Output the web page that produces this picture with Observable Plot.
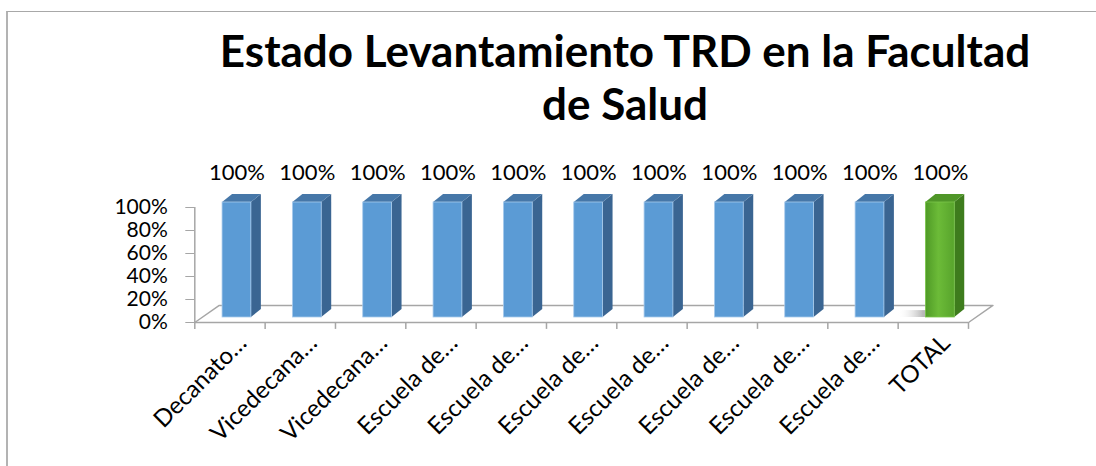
<!DOCTYPE html>
<html><head><meta charset="utf-8">
<script src="https://cdn.jsdelivr.net/npm/d3@7"></script>
<script src="https://cdn.jsdelivr.net/npm/@observablehq/plot@0.6"></script>
<style>
body{margin:0;background:#fff;overflow:hidden;width:1096px;height:466px;position:relative;font-family:Lato,sans-serif}
#frame{position:absolute;left:6px;top:11px;width:1200px;height:500px;border-left:2px solid #b3b3b3;border-top:1px solid #a8a8a8}
#title{position:absolute;left:125px;width:1000px;top:24px;text-align:center;font:bold 44px/53px Lato,sans-serif;color:#000}
#chart{position:absolute;left:0;top:150px}
</style></head><body>
<div id="frame"></div>
<div id="title">Estado Levantamiento TRD en la Facultad<br>de Salud</div>
<div id="chart"></div>
<script>
const categories = ["Decanato…","Vicedecana…","Vicedecana…","Escuela de…","Escuela de…","Escuela de…","Escuela de…","Escuela de…","Escuela de…","Escuela de…","TOTAL"];
const values = [100,100,100,100,100,100,100,100,100,100,100];
const yTicks = [0,20,40,60,80,100];

const rows = categories.map((c,i)=>({i, cat:c, v:values[i], total:c==="TOTAL"}));
const n = rows.length;

// 3D geometry (units of the scales)
const H = 0.205, DX = 0.142, DY = 7;   // half width, depth offset
const BDX = 7, BDY = -5;               // bars sit inside the floor depth (px)
const FX = 0.348, FY = 14.8;           // floor depth

const blue = {front:"#5B9BD5", side:"#3A6592", top:"#4677A8", edge:"#a9cbec"};
const green = {front:"url(#gfront)", side:"#3E7C1D", top:"#4F9628", edge:"#7cc64c"};

const sidePts = rows.flatMap(d=>[{i:d.i,total:d.total,x:d.i+H,y1:0,y2:d.v},{i:d.i,total:d.total,x:d.i+H+DX,y1:DY,y2:d.v+DY}]);
const topPts = rows.flatMap(d=>[{i:d.i,total:d.total,y:d.v,x1:d.i-H,x2:d.i+H},{i:d.i,total:d.total,y:d.v+DY,x1:d.i-H+DX,x2:d.i+H+DX}]);
const lo = -0.5, hi = n-0.5;
const floorPts = [{x:lo,y:0},{x:lo+FX,y:FY},{x:hi+FX,y:FY},{x:hi,y:0}];
const bounds = d3.range(n+1).map(k=>k-0.5);
const grid = "#a6a6a6";

const barMarks = (pal, f) => [
  Plot.areaY(sidePts.filter(f), {x:"x", y1:"y1", y2:"y2", z:"i", fill:pal.side, dx:BDX, dy:BDY}),
  Plot.areaX(topPts.filter(f), {y:"y", x1:"x1", x2:"x2", z:"i", fill:pal.top, dx:BDX, dy:BDY}),
  Plot.rect(rows.filter(f), {x1:d=>d.i-H, x2:d=>d.i+H, y1:0, y2:"v", fill:pal.front, stroke:pal.edge, strokeWidth:0.8, dx:BDX, dy:BDY})
];

const chart = Plot.plot({
  width:1096, height:316,
  marginTop:57, marginBottom:144, marginLeft:194.3, marginRight:128,
  style:{fontFamily:"Lato, sans-serif", overflow:"visible", background:"transparent"},
  x:{type:"linear", domain:[lo,hi], axis:null},
  y:{domain:[0,100], axis:null},
  marks:[
    Plot.line(floorPts, {x:"x", y:"y", stroke:grid, strokeWidth:1.5}),
    Plot.ruleY([0], {stroke:grid, strokeWidth:1.5}),
    Plot.ruleX([lo], {y1:0, y2:100, stroke:grid, strokeWidth:1.5}),
    Plot.ruleX(bounds, {y1:0, y2:-6, stroke:grid, strokeWidth:1.5}),
    // soft shadow of the TOTAL bar on the floor
    Plot.rect(rows.filter(d=>d.total), {x1:d=>d.i-H-0.4, x2:d=>d.i+H, y1:0, y2:6, fill:"url(#gshadow)", dx:BDX, dy:BDY, ariaLabel:"shadow"}),
    Plot.axisY({ticks:yTicks, tickFormat:d=>d+"%", tickSize:9, tickPadding:18, stroke:grid, fill:"#000", fontSize:21, label:null}),
    ...barMarks(blue, d=>!d.total),
    ...barMarks(green, d=>d.total),
    Plot.text(rows, {x:"i", y:"v", text:d=>d.v+"%", dx:BDX, dy:-28, lineAnchor:"bottom", fontSize:22, fill:"#000"}),
    Plot.text(rows, {x:"i", y:0, text:"cat", rotate:-45, textAnchor:"end", lineAnchor:"top", dx:6, dy:10, fontSize:24, fill:"#000"})
  ]
});
const svg = d3.select(chart);
const defs = svg.insert("defs", ":first-child");
const g = defs.append("linearGradient").attr("id","gfront").attr("x1","0").attr("x2","1").attr("y1","0").attr("y2","0");
g.append("stop").attr("offset","0").attr("stop-color","#4f9a26");
g.append("stop").attr("offset","0.45").attr("stop-color","#6cbb38");
g.append("stop").attr("offset","1").attr("stop-color","#58a42c");
const s = defs.append("linearGradient").attr("id","gshadow").attr("x1","0").attr("x2","1").attr("y1","0").attr("y2","0");
s.append("stop").attr("offset","0").attr("stop-color","#ffffff").attr("stop-opacity","0");
s.append("stop").attr("offset","0.45").attr("stop-color","#7f7f7f").attr("stop-opacity","0.55");
s.append("stop").attr("offset","1").attr("stop-color","#6f6f6f").attr("stop-opacity","0.7");
svg.selectAll('[aria-label="shadow"] rect').style("filter","blur(2px)");
document.getElementById("chart").appendChild(chart);
</script>
</body></html>
